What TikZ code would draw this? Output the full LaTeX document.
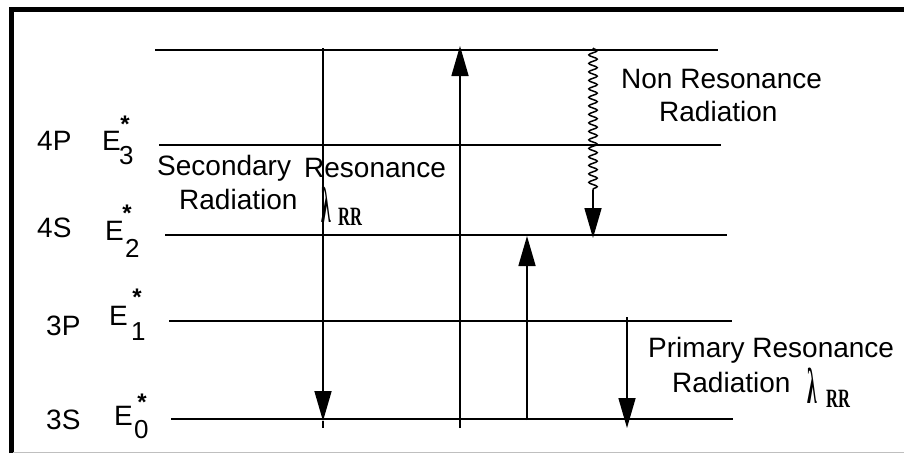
\documentclass[tikz,border=0pt]{standalone}
\usepackage{graphicx}
\usepackage{fontspec}
\setmainfont{Liberation Sans}
\newfontfamily\serfont{Liberation Serif}
\usetikzlibrary{arrows.meta,decorations.pathmorphing}
\newcommand{\lamRR}{\scalebox{0.7}[1.8]{\fontsize{28}{28}\selectfont\serfont\bfseries λ}}
\newcommand{\subRR}{\scalebox{0.75}[1.2]{\fontsize{22}{22}\selectfont\serfont\bfseries RR}}
\begin{document}
\begin{tikzpicture}[x=1pt,y=-1pt,
  lvl/.style={line width=1.6pt},
  trarrow/.style={line width=1.6pt,-{Triangle[length=30pt,width=17pt]}},
  wavy/.style={line width=1.5pt,decorate,decoration={snake,amplitude=4.2pt,segment length=8.5pt}},
  lab/.style={inner sep=0pt,anchor=base west,font=\fontsize{28}{30}\selectfont},
  subd/.style={inner sep=0pt,anchor=base west,font=\fontsize{26}{26}\selectfont},
  astk/.style={inner sep=0pt,anchor=north,font=\fontsize{24}{24}\selectfont\bfseries},
  greek/.style={inner sep=0pt,anchor=base west},
]
\useasboundingbox (0,0) rectangle (904,453);
% frame
\draw[line width=5pt] (11,453) -- (11,9) -- (904,9);
\draw[gray!50, line width=1pt] (13,452.5) -- (904,452.5);

% levels
\coordinate (L4a) at (155,50);  \coordinate (L4b) at (718,50);
\coordinate (L3a) at (159,145); \coordinate (L3b) at (721,145);
\coordinate (L2a) at (165,235); \coordinate (L2b) at (727,235);
\coordinate (L1a) at (169,321); \coordinate (L1b) at (732,321);
\coordinate (L0a) at (171,419); \coordinate (L0b) at (733,419);
\draw[lvl] (L4a) -- (L4b);
\draw[lvl] (L3a) -- (L3b);
\draw[lvl] (L2a) -- (L2b);
\draw[lvl] (L1a) -- (L1b);
\draw[lvl] (L0a) -- (L0b);

% level labels
\node[lab] (n4P) at (37,150) {4P};
\node[lab] (n4S) at (37,237) {4S};
\node[lab] (n3P) at (46,335) {3P};
\node[lab] (n3S) at (46,429) {3S};

\node[lab] (e3) at (102,150) {E};
\node[subd] (d3) at (119,164) {3};
\node[astk] (s3) at (125,116) {*};
\node[lab] (e2) at (105,240) {E};
\node[subd] (d2) at (125,257) {2};
\node[astk] (s2) at (127,205) {*};
\node[lab] (e1) at (109,325) {E};
\node[subd] (d1) at (131,340) {1};
\node[astk] (s1) at (137,289) {*};
\node[lab] (e0) at (114,425) {E};
\node[subd] (d0) at (134,438) {0};
\node[astk] (s0) at (142,394) {*};

% transitions
\coordinate (a1top) at (323,48);
\coordinate (a1tip) at (323,421);
\coordinate (a1end) at (323,428);
\draw[trarrow] (a1top) -- (a1tip);
\draw[lvl] (a1tip) -- (a1end);

\coordinate (a2bot) at (460,428);
\coordinate (a2tip) at (460,46);
\draw[trarrow] (a2bot) -- (a2tip);

\coordinate (a3bot) at (527,420);
\coordinate (a3tip) at (527,236);
\draw[trarrow] (a3bot) -- (a3tip);

\coordinate (w1) at (593,48);
\coordinate (w2) at (593,190);
\coordinate (w3) at (593,238);
\draw[wavy] (w1) -- (w2);
\draw[trarrow] (w2) -- (w3);

\coordinate (a5top) at (627,317);
\coordinate (a5tip) at (627,428);
\draw[trarrow] (a5top) -- (a5tip);

% texts
\node[lab] (t1) at (157,175) {Secondary};
\node[lab] (t2) at (304,177) {Resonance};
\node[lab] (t3) at (179,209) {Radiation};
\node[greek] (lam1) at (321,222) {\lamRR};
\node[greek] (rr1) at (338,225) {\subRR};

\node[lab] (t4) at (621,88) {Non Resonance};
\node[lab] (t5) at (659,121) {Radiation};

\node[lab] (t6) at (648,357) {Primary Resonance};
\node[lab] (t7) at (672,392) {Radiation};
\node[greek] (lam2) at (807,403) {\lamRR};
\node[greek] (rr2) at (826,407) {\subRR};
\end{tikzpicture}
\end{document}
